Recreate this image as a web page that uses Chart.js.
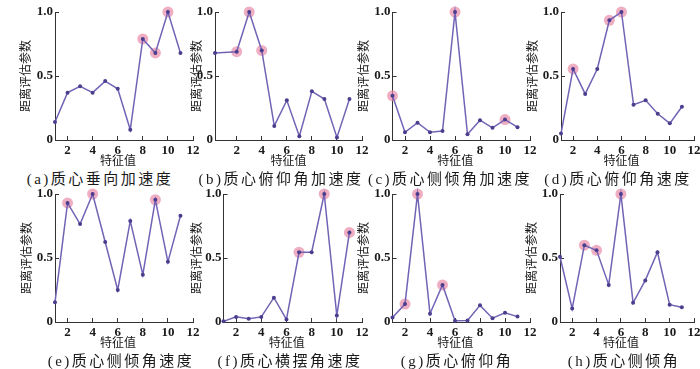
<!DOCTYPE html>
<html>
<head>
<meta charset="utf-8">
<script src="https://cdn.jsdelivr.net/npm/chart.js@4.4.0/dist/chart.umd.min.js"></script>
<style>
body { margin: 0; background: #fff; width: 700px; height: 369px; position: relative; overflow: hidden; }
.panel { position: absolute; }
.cap { position: absolute; font-family: "Liberation Serif", "Noto Sans CJK SC", serif; font-size: 15px; letter-spacing: 2.5px; line-height: 1; color: #1a1a1a; white-space: nowrap; transform: translate(-50%, -50%); }
</style>
</head>
<body>
<script>
// feature values on the x axis (panel b starts right at its shifted axis)
const featureX = [1, 2, 3, 4, 5, 6, 7, 8, 9, 10, 11];
const featureXB = [0.27, 2, 3, 4, 5, 6, 7, 8, 9, 10, 11];
const xTicks = [2, 4, 6, 8, 10, 12];
const yTicks = [0, 0.5, 1.0];
const yTickLabels = ["0", "0.5", "1.0"];

// distance evaluation parameter per panel, marked = highlighted feature numbers
const valsA = [0.14, 0.37, 0.42, 0.37, 0.46, 0.40, 0.08, 0.79, 0.68, 1.00, 0.68];
const markA = [8, 9, 10];
const valsB = [0.68, 0.69, 1.00, 0.70, 0.11, 0.31, 0.03, 0.38, 0.32, 0.02, 0.32];
const markB = [2, 3, 4];
const valsC = [0.345, 0.06, 0.135, 0.06, 0.07, 1.00, 0.045, 0.155, 0.095, 0.16, 0.10];
const markC = [1, 6, 10];
const valsD = [0.05, 0.555, 0.36, 0.555, 0.935, 1.00, 0.275, 0.31, 0.205, 0.13, 0.26];
const markD = [2, 5, 6];
const valsE = [0.155, 0.93, 0.765, 1.00, 0.625, 0.25, 0.79, 0.37, 0.955, 0.47, 0.83];
const markE = [2, 4, 9];
const valsF = [0.005, 0.04, 0.025, 0.04, 0.19, 0.02, 0.545, 0.545, 1.00, 0.05, 0.70];
const markF = [7, 9, 11];
const valsG = [0.035, 0.14, 1.00, 0.065, 0.29, 0.01, 0.012, 0.13, 0.03, 0.072, 0.042];
const markG = [2, 3, 5];
const valsH = [0.51, 0.105, 0.60, 0.56, 0.29, 1.00, 0.15, 0.325, 0.545, 0.135, 0.115];
const markH = [3, 4, 6];

const captions = ["(a)质心垂向加速度", "(b)质心俯仰角加速度", "(c)质心侧倾角加速度", "(d)质心俯仰角速度",
                  "(e)质心侧倾角速度", "(f)质心横摆角速度", "(g)质心俯仰角", "(h)质心侧倾角"];
const yTitle = "距离评估参数";
const xTitle = "特征值";

// titlePad: trailing ideographic space pulls the centred x title left (it sits under x=6 in the original)
const panels = [
    {vals: valsA, marks: markA, x: featureX,  xMin: 1,    plotLeft: 55,    plotRight: 193, titleX: 27,    capX: 100, row: 0, titlePad: true},
    {vals: valsB, marks: markB, x: featureXB, xMin: 0.27, plotLeft: 215,   plotRight: 362, titleX: 198,   capX: 281, row: 0, titlePad: false},
    {vals: valsC, marks: markC, x: featureX,  xMin: 1,    plotLeft: 392.5, plotRight: 530, titleX: 364.5, capX: 450, row: 0, titlePad: true},
    {vals: valsD, marks: markD, x: featureX,  xMin: 1,    plotLeft: 561,   plotRight: 694, titleX: 534,   capX: 618, row: 0, titlePad: true},
    {vals: valsE, marks: markE, x: featureX,  xMin: 1,    plotLeft: 55,    plotRight: 193, titleX: 28,    capX: 121, row: 1, titlePad: true},
    {vals: valsF, marks: markF, x: featureX,  xMin: 1,    plotLeft: 223.5, plotRight: 362, titleX: 198,   capX: 290, row: 1, titlePad: true},
    {vals: valsG, marks: markG, x: featureX,  xMin: 1,    plotLeft: 392.5, plotRight: 530, titleX: 364.5, capX: 457, row: 1, titlePad: true},
    {vals: valsH, marks: markH, x: featureX,  xMin: 1,    plotLeft: 560,   plotRight: 694, titleX: 533,   capX: 624, row: 1, titlePad: true}
];

const numFont = {family: "'Liberation Serif', serif", size: 13, weight: "bold"};
const cjkFont = {family: "'Liberation Serif', 'Noto Sans CJK SC', serif", size: 12};
const axisColor = "#333";

function makePanel(p, idx) {
    const cvLeft = Math.round(p.titleX - 27);
    const cvTop = p.row === 0 ? 0 : 182;
    const cvW = Math.min(700 - cvLeft, Math.round(p.plotRight - cvLeft + 10));
    const cvH = 170;
    const box = document.createElement("div");
    box.className = "panel";
    box.style.left = cvLeft + "px";
    box.style.top = cvTop + "px";
    box.style.width = cvW + "px";
    box.style.height = cvH + "px";
    const cv = document.createElement("canvas");
    box.appendChild(cv);
    document.body.appendChild(box);

    const yW = p.plotLeft - cvLeft;
    const rightPad = cvW - (p.plotRight - cvLeft);

    new Chart(cv, {
        type: "line",
        data: {
            datasets: [{
                data: p.x.map((x, i) => ({x: x, y: p.vals[i]})),
                borderColor: "#7363b5",
                borderWidth: 1.5,
                pointRadius: 2,
                pointBackgroundColor: "#4c3d8f",
                pointBorderWidth: 0,
                tension: 0,
                clip: false,
                order: 0
            }, {
                data: p.marks.map(m => ({x: p.x[m - 1], y: p.vals[m - 1]})),
                showLine: false,
                pointRadius: 5.5,
                pointBackgroundColor: "rgba(232,140,168,0.7)",
                pointBorderWidth: 0,
                clip: false,
                order: 1
            }]
        },
        options: {
            responsive: true,
            maintainAspectRatio: false,
            animation: false,
            events: [],
            layout: {padding: {top: 12, right: rightPad, left: 0, bottom: 0}},
            plugins: {legend: {display: false}, tooltip: {enabled: false}},
            scales: {
                x: {
                    type: "linear",
                    min: p.xMin,
                    max: 12,
                    afterBuildTicks: s => { s.ticks = xTicks.map(v => ({value: v})); },
                    afterFit: s => { s.height = 30; s.paddingLeft = 0; s.paddingRight = 0; },
                    grid: {drawOnChartArea: false, drawTicks: true, tickLength: -4, color: axisColor},
                    border: {display: true, color: axisColor, width: 1},
                    ticks: {font: numFont, color: "#1a1a1a", padding: 7, maxRotation: 0, autoSkip: false},
                    title: {display: true, text: p.titlePad ? xTitle + "\u3000" : xTitle, font: cjkFont,
                            color: "#1a1a1a", padding: {top: 0, bottom: 0.8}}
                },
                y: {
                    min: 0,
                    max: 1,
                    afterBuildTicks: s => { s.ticks = yTicks.map(v => ({value: v})); },
                    afterFit: s => { s.width = yW; s.paddingTop = 0; s.paddingBottom = 0; },
                    grid: {drawOnChartArea: false, drawTicks: true, tickLength: -4, color: axisColor},
                    border: {display: true, color: axisColor, width: 1},
                    ticks: {font: numFont, color: "#1a1a1a", padding: 6,
                            callback: v => yTickLabels[yTicks.indexOf(v)]},
                    title: {display: true, text: yTitle, font: cjkFont, color: "#1a1a1a", padding: {top: 19.8, bottom: 0}}
                }
            }
        }
    });

    const cap = document.createElement("div");
    cap.className = "cap";
    cap.textContent = captions[idx];
    cap.style.left = p.capX + "px";
    cap.style.top = (p.row === 0 ? 179 : 361) + "px";
    document.body.appendChild(cap);
}

panels.forEach(makePanel);
</script>
</body>
</html>
